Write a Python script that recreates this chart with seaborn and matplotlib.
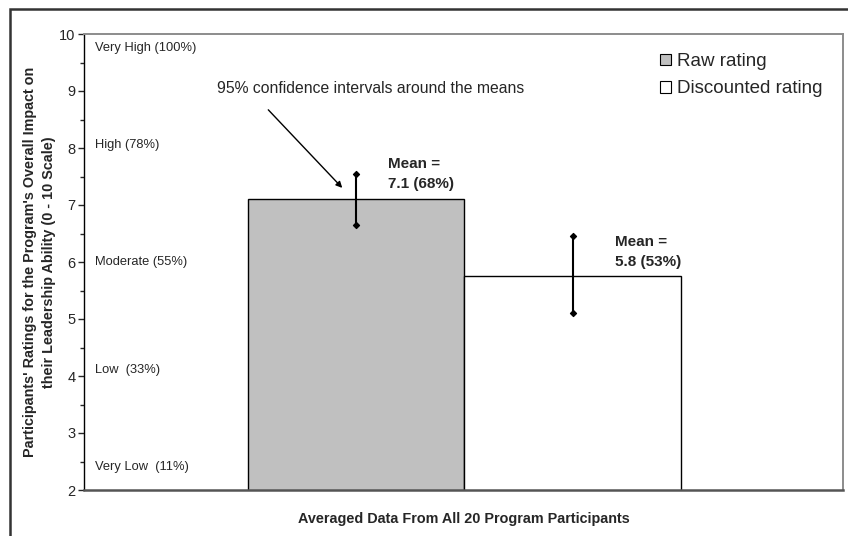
import matplotlib
matplotlib.use('Agg')
from matplotlib import pyplot as plt
from matplotlib.patches import Patch, Rectangle
import seaborn as sns
import pandas as pd

# chart values
groups = ['Raw rating', 'Discounted rating']
means = [7.1, 5.75]
ci_low = [6.65, 5.1]
ci_high = [7.55, 6.45]
mean_labels = ['Mean =\n7.1 (68%)', 'Mean =\n5.8 (53%)']
scale_labels = ['Very High (100%)', 'High (78%)', 'Moderate (55%)', 'Low  (33%)', 'Very Low  (11%)']
scale_pos = [9.75, 8.05, 6.0, 4.1, 2.4]
colors = ['#C0C0C0', '#FFFFFF']

df = pd.DataFrame({'group': groups, 'mean': means})

sns.set_style('ticks')
plt.rcParams['font.family'] = ['Liberation Sans', 'DejaVu Sans']

fig = plt.figure(figsize=(8.48, 5.36), dpi=100)
ax = fig.add_axes([84 / 848, 46 / 536, 759 / 848, 456 / 536])

sns.barplot(data=df, x='group', y='mean', hue='group', palette=colors,
            width=1, edgecolor='black', linewidth=1, errorbar=None,
            legend=False, ax=ax)

# confidence intervals
xs = [0, 1]
ax.vlines(xs, ci_low, ci_high, color='black', lw=1.5, zorder=4)
ax.scatter(xs + xs, ci_low + ci_high, marker='D', s=9, color='black', zorder=5)

for x, lab, y in zip([0.148, 1.194], mean_labels, [7.85, 6.48]):
    ax.text(x, y, lab, fontsize=11, fontweight='bold', ha='left', va='top',
            linespacing=1.6)

for lab, y in zip(scale_labels, scale_pos):
    ax.text(0.014, y, lab, transform=ax.get_yaxis_transform(), fontsize=9.3,
            ha='left', va='center')

ax.text(-0.644, 9.04, '95% confidence intervals around the means',
        fontsize=11.3, va='center', ha='left')
ax.annotate('', xy=(-0.065, 7.3), xytext=(-0.407, 8.67),
            arrowprops=dict(arrowstyle='-|>', color='black', lw=1,
                            mutation_scale=9, shrinkA=0, shrinkB=0))

ax.set_xlim(-1.259, 2.25)
ax.set_ylim(2, 10)
ax.set_yticks(range(2, 11))
ax.set_yticks([x + 0.5 for x in range(2, 10)], minor=True)
ax.tick_params(axis='y', which='major', length=4, width=1, labelsize=10.5,
               direction='out', pad=2)
ax.tick_params(axis='y', which='minor', length=3, width=1, direction='out')
ax.set_xticks([])
ax.set_xlabel('Averaged Data From All 20 Program Participants', fontsize=10.4,
              fontweight='bold', labelpad=16)
ax.set_ylabel("Participants' Ratings for the Program's Overall Impact on\n"
              "their Leadership Ability (0 - 10 Scale)", fontsize=10.4,
              fontweight='bold', linespacing=1.45)
ax.yaxis.set_label_coords(-0.037, 0.5)

for side in ['top', 'right']:
    ax.spines[side].set_visible(True)
    ax.spines[side].set_color('#8c8c8c')
    ax.spines[side].set_linewidth(1.4)
ax.spines['bottom'].set_color('#555555')
ax.spines['bottom'].set_linewidth(1.8)
ax.spines['left'].set_color('black')
ax.spines['left'].set_linewidth(1)

handles = [Patch(facecolor=c, edgecolor='black', lw=0.8) for c in colors]
ax.legend(handles, groups, loc='upper right', bbox_to_anchor=(0.995, 0.995),
          frameon=False, fontsize=13.5, handlelength=0.6, handleheight=0.6,
          handletextpad=0.3, labelspacing=0.55)

# outer chart border
fig.patches.append(Rectangle((10 / 848, -0.05), 1.0, (536 - 9) / 536 + 0.05,
                             transform=fig.transFigure, fill=False,
                             edgecolor='#333333', lw=1.8))

plt.savefig('out.png', dpi=100)
